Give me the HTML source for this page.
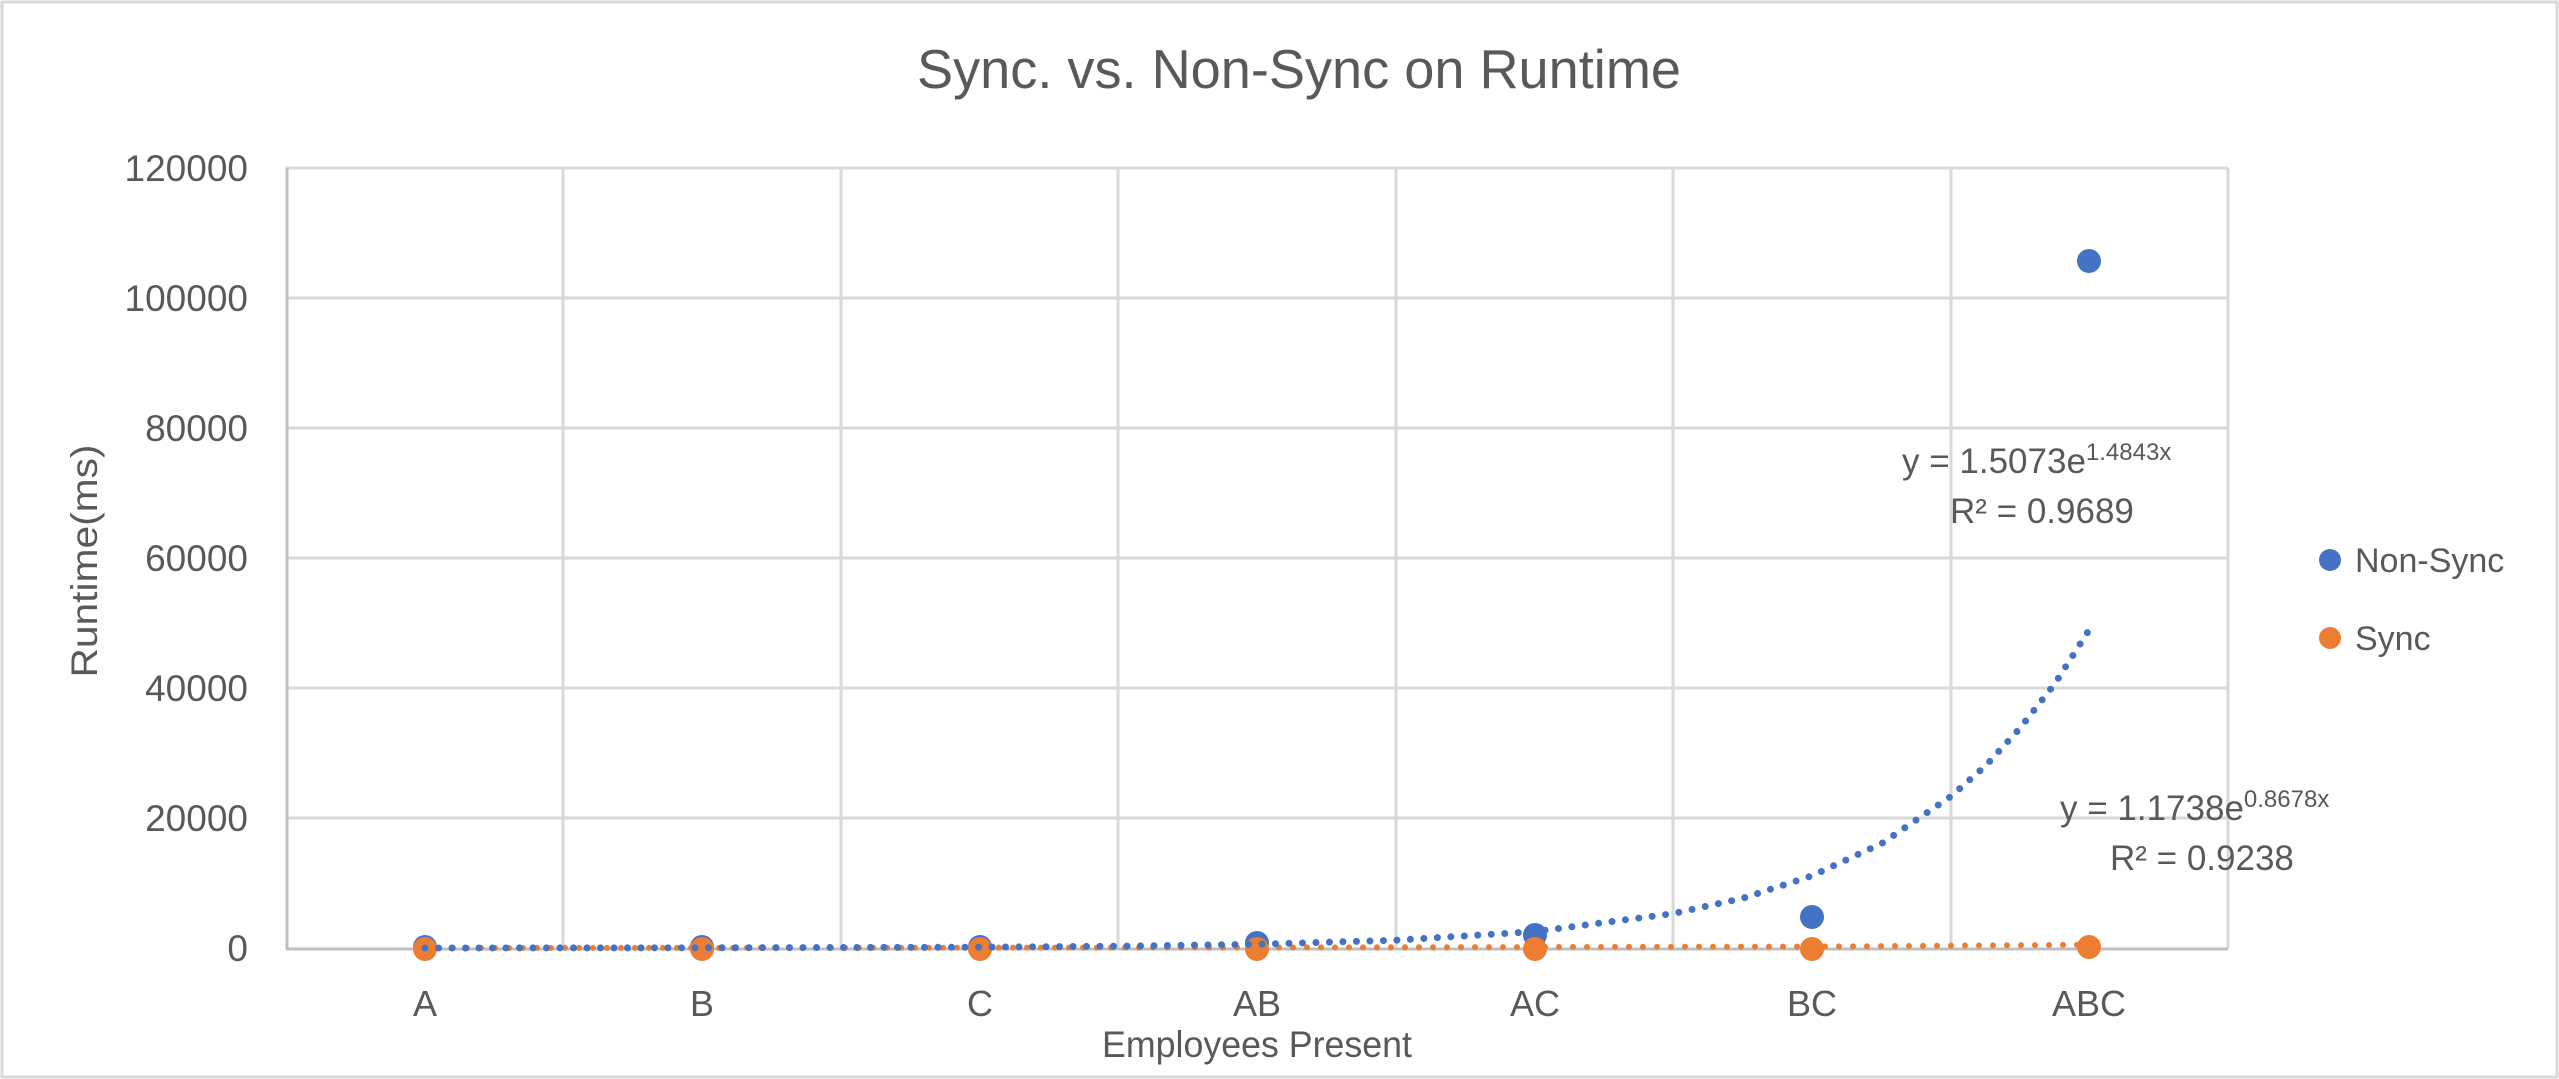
<!DOCTYPE html>
<html><head><meta charset="utf-8"><style>
html,body{margin:0;padding:0;background:#fff}
svg{display:block}
text{font-family:"Liberation Sans",sans-serif;fill:#595959}
</style></head><body>
<svg width="2559" height="1079" viewBox="0 0 2559 1079" xmlns="http://www.w3.org/2000/svg">
<rect x="2" y="2" width="2555" height="1075" fill="#fff" stroke="#d9d9d9" stroke-width="3"/>
<text x="1299" y="88" font-size="55" text-anchor="middle" textLength="764" lengthAdjust="spacingAndGlyphs">Sync. vs. Non-Sync on  Runtime</text>
<g stroke="#d9d9d9" stroke-width="3">
<line x1="286" y1="168" x2="2228" y2="168"/>
<line x1="286" y1="298" x2="2228" y2="298"/>
<line x1="286" y1="428" x2="2228" y2="428"/>
<line x1="286" y1="558" x2="2228" y2="558"/>
<line x1="286" y1="688" x2="2228" y2="688"/>
<line x1="286" y1="818" x2="2228" y2="818"/>
<line x1="563" y1="168" x2="563" y2="948"/>
<line x1="841" y1="168" x2="841" y2="948"/>
<line x1="1118" y1="168" x2="1118" y2="948"/>
<line x1="1396" y1="168" x2="1396" y2="948"/>
<line x1="1673" y1="168" x2="1673" y2="948"/>
<line x1="1951" y1="168" x2="1951" y2="948"/>
<line x1="2228" y1="168" x2="2228" y2="948"/>
</g>
<line x1="287" y1="168" x2="287" y2="949" stroke="#bfbfbf" stroke-width="3"/>
<line x1="286" y1="949" x2="2228" y2="949" stroke="#bfbfbf" stroke-width="3"/>
<g font-size="37" text-anchor="end">
<text x="248" y="181">120000</text>
<text x="248" y="311">100000</text>
<text x="248" y="441">80000</text>
<text x="248" y="571">60000</text>
<text x="248" y="701">40000</text>
<text x="248" y="831">20000</text>
<text x="248" y="961">0</text>
</g>
<g font-size="36" text-anchor="middle">
<text x="425" y="1016">A</text>
<text x="702" y="1016">B</text>
<text x="980" y="1016">C</text>
<text x="1257" y="1016">AB</text>
<text x="1535" y="1016">AC</text>
<text x="1812" y="1016">BC</text>
<text x="2089" y="1016">ABC</text>
</g>
<text x="1257" y="1057" font-size="37" text-anchor="middle" textLength="310" lengthAdjust="spacingAndGlyphs">Employees Present</text>
<text transform="translate(97,561) rotate(-90)" font-size="37" text-anchor="middle" textLength="233" lengthAdjust="spacingAndGlyphs">Runtime(ms)</text>
<g fill="#4472c4">
<circle cx="425" cy="947" r="12"/>
<circle cx="702" cy="947" r="12"/>
<circle cx="980" cy="947" r="12"/>
<circle cx="1257" cy="943" r="12"/>
<circle cx="1535" cy="935" r="12"/>
<circle cx="1812" cy="917" r="12"/>
<circle cx="2089" cy="261" r="12"/>
</g>
<g fill="#ed7d31">
<circle cx="425" cy="949" r="12"/>
<circle cx="702" cy="949" r="12"/>
<circle cx="980" cy="949" r="12"/>
<circle cx="1257" cy="949" r="12"/>
<circle cx="1535" cy="949" r="12"/>
<circle cx="1812" cy="949" r="12"/>
<circle cx="2089" cy="947" r="12"/>
</g>
<polyline fill="none" stroke="#ed7d31" stroke-width="6" stroke-linecap="round" stroke-dasharray="0 14" points="425,948 1257,947.5 1812,946.6 2089,944.7"/>
<polyline fill="none" stroke="#4472c4" stroke-width="7" stroke-linecap="round" stroke-dasharray="0 13.5" points="425,948 702,947.8 980,947.2 1118,946.2 1257,944.3 1396,940.2 1535,931.6 1673,913.6 1743,898.2 1812,875.8 1882,843.3 1951,796.3 1986,765.4 2020,728.1 2055,683.5 2090,628.5"/>
<text x="1902" y="473" font-size="35">y = 1.5073e<tspan font-size="24" dy="-13">1.4843x</tspan></text>
<text x="1950" y="523" font-size="35">R² = 0.9689</text>
<text x="2060" y="820" font-size="35">y = 1.1738e<tspan font-size="24" dy="-13">0.8678x</tspan></text>
<text x="2110" y="870" font-size="35">R² = 0.9238</text>
<circle cx="2330" cy="560" r="11" fill="#4472c4"/>
<text x="2355" y="572" font-size="34">Non-Sync</text>
<circle cx="2330" cy="638" r="11" fill="#ed7d31"/>
<text x="2355" y="650" font-size="34">Sync</text>
</svg>
</body></html>
